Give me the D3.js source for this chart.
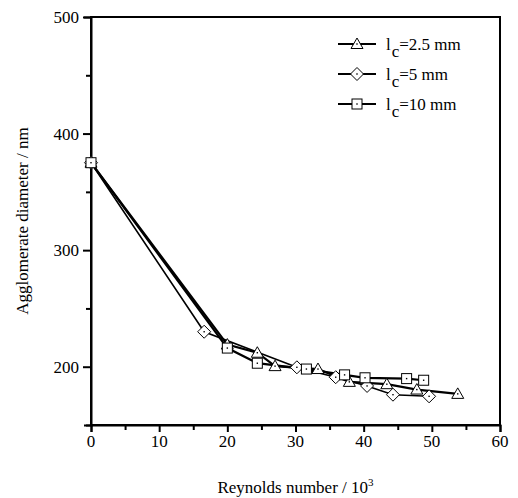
<!DOCTYPE html>
<html>
<head>
<meta charset="utf-8">
<script src="https://cdn.jsdelivr.net/npm/d3@7"></script>
<style>
  body { margin: 0; background: #fff; }
  text { font-family: "Liberation Serif", "Times New Roman", serif; fill: #000; }
</style>
</head>
<body>
<div id="chart"></div>
<script>
// podatki, odčitani s slike
const xTicks = [0, 10, 20, 30, 40, 50, 60];
const yTicks = [200, 300, 400, 500];

const triX = [0, 20, 24.4, 27, 33.3, 37.9, 43.4, 47.8, 53.8];
const triY = [375, 219, 212, 200.5, 198, 187, 185, 180.4, 176.7];

const diaX = [0, 16.6, 30.2, 35.9, 40.5, 44.3, 49.6];
const diaY = [375, 230, 199.5, 191, 183.5, 176, 174.6];

const sqX = [0, 20, 24.4, 31.6, 37.2, 40.2, 46.3, 48.8];
const sqY = [375, 216, 203, 198, 193, 190.5, 189.8, 188.4];

const seriesNames = ["2.5 mm", "5 mm", "10 mm"];

const width = 518;
const height = 498;
const mLeft = 91, mRight = 500, mTop = 17, mBottom = 425;

const x = d3.scaleLinear().domain([0, 60]).range([mLeft, mRight]);
const y = d3.scaleLinear().domain([150, 500]).range([mBottom, mTop]);

const svg = d3.select("#chart")
    .append("svg")
    .attr("width", width)
    .attr("height", height);

// okvir
svg.append("rect")
    .attr("x", mLeft).attr("y", mTop)
    .attr("width", mRight - mLeft).attr("height", mBottom - mTop)
    .attr("fill", "none").attr("stroke", "#000").attr("stroke-width", 2);

// os x
const xAxis = svg.append("g").attr("transform", `translate(0,${mBottom})`);
xAxis.call(d3.axisBottom(x).tickValues(d3.range(0, 61, 5)).tickSize(7).tickFormat(""));
xAxis.selectAll(".tick line").attr("stroke-width", 2)
    .attr("y2", d => d % 10 === 0 ? 7 : 5);
xAxis.select(".domain").attr("stroke-width", 2);
xAxis.selectAll(".label").data(xTicks).enter().append("text")
    .attr("x", d => x(d)).attr("y", 22)
    .attr("text-anchor", "middle").attr("font-size", 17)
    .text(d => d);

// os y
const yAxis = svg.append("g").attr("transform", `translate(${mLeft},0)`);
yAxis.call(d3.axisLeft(y).tickValues(d3.range(150, 501, 50)).tickSize(7).tickFormat(""));
yAxis.selectAll(".tick line").attr("stroke-width", 2)
    .attr("x2", d => d % 100 === 0 ? -8 : -5);
yAxis.select(".domain").attr("stroke-width", 2);
yAxis.selectAll(".label").data(yTicks).enter().append("text")
    .attr("x", -12).attr("y", d => y(d) + 6)
    .attr("text-anchor", "end").attr("font-size", 17)
    .text(d => d);

// naslovi osi
const xt = svg.append("text")
    .attr("x", (mLeft + mRight) / 2).attr("y", 493)
    .attr("text-anchor", "middle").attr("font-size", 17)
    .text("Reynolds number / 10");
xt.append("tspan").attr("dy", -7).attr("font-size", 11).text("3");

svg.append("text")
    .attr("transform", `translate(28,${(mTop + mBottom) / 2}) rotate(-90)`)
    .attr("text-anchor", "middle").attr("font-size", 17)
    .text("Agglomerate diameter / nm");

// simboli
function drawMarker(g, type) {
    if (type === "tri") {
        g.append("path").attr("d", "M0,-6L6,4.5L-6,4.5Z")
            .attr("fill", "#fff").attr("stroke", "#000").attr("stroke-width", 1);
    } else if (type === "dia") {
        g.append("path").attr("d", "M0,-6.5L6.5,0L0,6.5L-6.5,0Z")
            .attr("fill", "#fff").attr("stroke", "#000").attr("stroke-width", 1);
    } else {
        g.append("rect").attr("x", -5).attr("y", -5).attr("width", 10).attr("height", 10)
            .attr("fill", "#fff").attr("stroke", "#000").attr("stroke-width", 1);
    }
    g.append("rect").attr("x", -0.7).attr("y", -0.7).attr("width", 1.4).attr("height", 1.4)
        .attr("fill", "#000");
}

const series = [
    { xs: triX, ys: triY, type: "tri", w: 2.2 },
    { xs: diaX, ys: diaY, type: "dia", w: 1.6 },
    { xs: sqX, ys: sqY, type: "sq", w: 2.2 }
];

const line = d3.line().x(d => x(d[0])).y(d => y(d[1]));

series.forEach(s => {
    const pts = s.xs.map((v, i) => [v, s.ys[i]]);
    svg.append("path").datum(pts)
        .attr("d", line)
        .attr("fill", "none").attr("stroke", "#000").attr("stroke-width", s.w);
});
series.forEach(s => {
    s.xs.forEach((v, i) => {
        const g = svg.append("g").attr("transform", `translate(${x(v)},${y(s.ys[i])})`);
        drawMarker(g, s.type);
    });
});

// legenda
seriesNames.forEach((name, i) => {
    const ly = 44 + i * 30;
    const g = svg.append("g").attr("transform", `translate(0,${ly})`);
    g.append("line").attr("x1", 338).attr("x2", 376).attr("y1", 0).attr("y2", 0)
        .attr("stroke", "#000").attr("stroke-width", 2);
    const mg = g.append("g").attr("transform", "translate(357,0)");
    drawMarker(mg, series[i].type);
    const t = g.append("text").attr("x", 386).attr("y", 6).attr("font-size", 17);
    t.append("tspan").text("l");
    t.append("tspan").attr("dy", 7).attr("dx", 1).text("c");
    t.append("tspan").attr("dy", -7).text("=" + name);
});
</script>
</body>
</html>
